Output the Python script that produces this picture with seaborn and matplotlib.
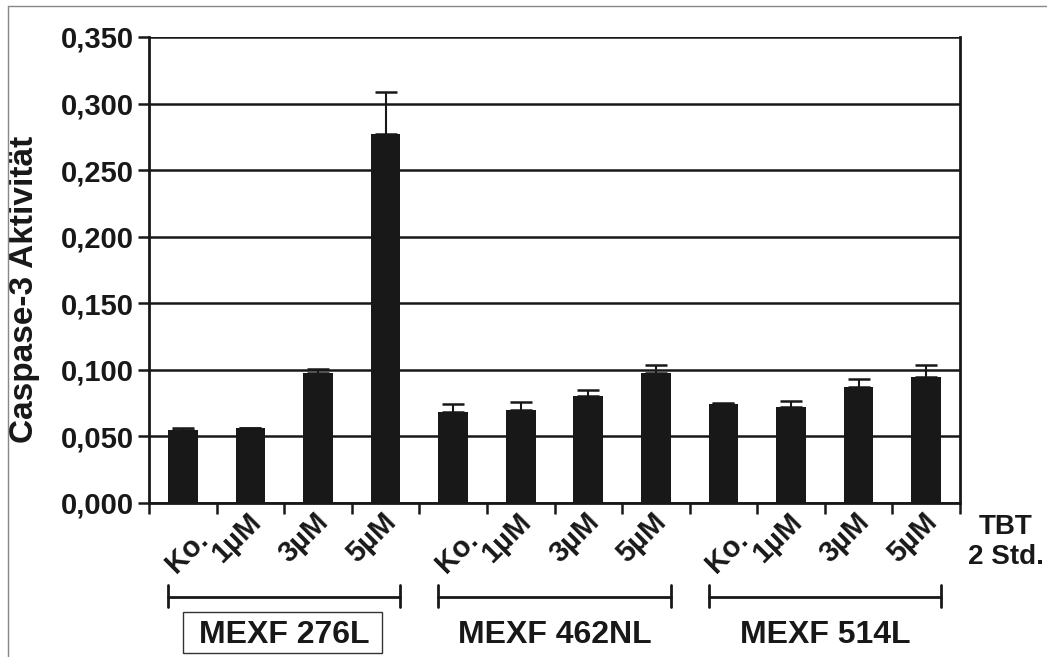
import numpy as np
import pandas as pd
import matplotlib
matplotlib.use('Agg')
import matplotlib.pyplot as plt
import matplotlib.transforms as mtrans
from matplotlib.lines import Line2D
from matplotlib.patches import Rectangle
import seaborn as sns

# data
groups = ['MEXF 276L', 'MEXF 462NL', 'MEXF 514L']
doses = ['Ko.', '1µM', '3µM', '5µM']
activity = [0.055, 0.056, 0.098, 0.277,
            0.068, 0.070, 0.080, 0.098,
            0.074, 0.072, 0.087, 0.095]
err_up = [0.001, 0.0005, 0.003, 0.032,
          0.0065, 0.006, 0.0045, 0.0055,
          0.001, 0.0043, 0.006, 0.009]
yticks = [0.0, 0.05, 0.10, 0.15, 0.20, 0.25, 0.30, 0.35]

df = pd.DataFrame({'pos': range(12), 'activity': activity})

sns.set_style('white')
plt.rcParams['font.family'] = ['Liberation Sans', 'DejaVu Sans']
plt.rcParams['font.weight'] = 'bold'
ink = '#181818'

fig = plt.figure(figsize=(10.47, 6.57), dpi=100)
ax = fig.add_axes([149/1047, 1-503/657, 811/1047, 466/657])

sns.barplot(data=df, x='pos', y='activity', color=ink, saturation=1,
            width=0.44, errorbar=None, ax=ax, zorder=3)
for p in ax.patches:
    p.set_edgecolor('none')
ax.errorbar(df['pos'], df['activity'], yerr=[np.zeros(12), err_up], fmt='none',
            ecolor=ink, elinewidth=1.5, capsize=8, capthick=1.8, zorder=4)

ax.set_xlim(-0.5, 11.5)
ax.set_ylim(0, 0.35)
ax.set_yticks(yticks)
ax.set_yticklabels([f'{v:.3f}'.replace('.', ',') for v in yticks], fontsize=21, color=ink)
ax.yaxis.grid(True, color=ink, lw=1.8, zorder=0)
ax.set_axisbelow(True)
ax.tick_params(axis='y', length=8, width=1.8, color=ink, pad=3, direction='out', left=True)

# ticks sit between the bars, dose labels are written under each bar
ax.set_xticks(np.arange(-0.5, 12, 1))
ax.set_xticklabels([])
ax.tick_params(axis='x', length=8, width=1.8, color=ink, direction='out', bottom=True)
tr_x = mtrans.blended_transform_factory(ax.transData, ax.transAxes)
for i, lab in enumerate(doses * 3):
    dx, dy = (0.04, -0.49) if lab == 'Ko.' else (-0.14, -0.35)
    t = tr_x + mtrans.ScaledTranslation(dx, dy, fig.dpi_scale_trans)
    ax.text(i, 0, lab, transform=t, rotation=45, rotation_mode='anchor',
            ha='center', va='center', fontsize=21, color=ink, clip_on=False)

for side in ['left', 'right', 'bottom']:
    ax.spines[side].set_color(ink)
    ax.spines[side].set_linewidth(2)
ax.spines['top'].set_visible(False)

ax.set_xlabel('')
ax.set_ylabel('Caspase-3 Aktivität', fontsize=24, fontweight='bold', color=ink)
ax.yaxis.set_label_coords(-0.134, 0.459)

# group brackets and labels
for g, name in enumerate(groups):
    x0, x1 = g*4 - 0.22, g*4 + 3.22
    ax.plot([x0, x1], [-0.202, -0.202], transform=tr_x, color=ink, lw=2, clip_on=False)
    for xe in (x0, x1):
        ax.plot([xe, xe], [-0.176, -0.224], transform=tr_x, color=ink, lw=2, clip_on=False)
    ax.text((x0 + x1)/2, -0.283, name, transform=tr_x, ha='center', va='center',
            fontsize=23, color=ink)

# box round the first cell line name
fig.add_artist(Rectangle((183/1047, 1-653/657), 199/1047, 41/657, transform=fig.transFigure,
                         fill=False, ec='#333333', lw=1))

fig.text(1006/1047, 1-542/657, 'TBT\n2 Std.', ha='center', va='center',
         fontsize=20, color=ink, linespacing=1.2)

# thin frame around the picture
fig.add_artist(Line2D([8/1047, 1], [1-6/657, 1-6/657], transform=fig.transFigure,
                      color='#888888', lw=1))
fig.add_artist(Line2D([8/1047, 8/1047], [0, 1-6/657], transform=fig.transFigure,
                      color='#888888', lw=1))

fig.savefig('out.png', dpi=100, facecolor='white')
